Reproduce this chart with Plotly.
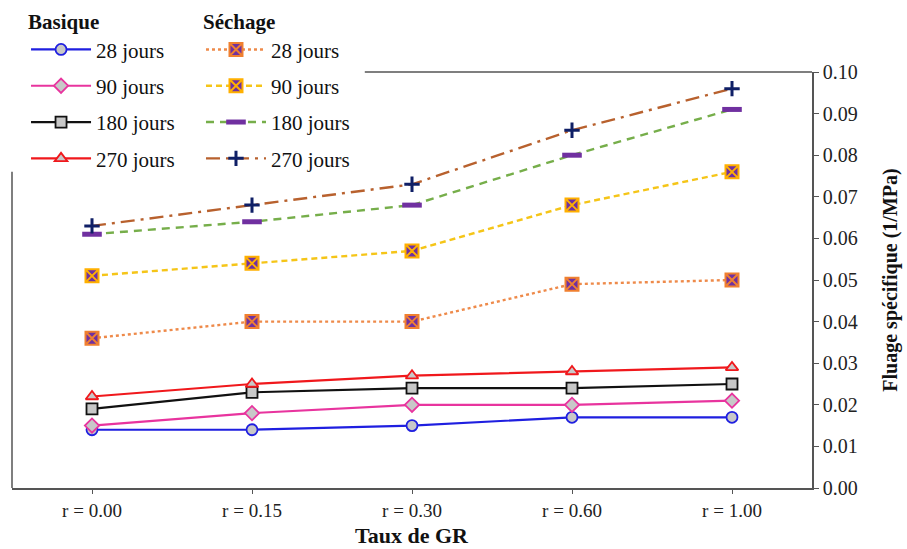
import plotly.graph_objects as go

categories = ["r = 0.00", "r = 0.15", "r = 0.30", "r = 0.60", "r = 1.00"]

basique_28 = [0.014, 0.014, 0.015, 0.017, 0.017]
basique_90 = [0.015, 0.018, 0.020, 0.020, 0.021]
basique_180 = [0.019, 0.023, 0.024, 0.024, 0.025]
basique_270 = [0.022, 0.025, 0.027, 0.028, 0.029]

sechage_28 = [0.036, 0.040, 0.040, 0.049, 0.050]
sechage_90 = [0.051, 0.054, 0.057, 0.068, 0.076]
sechage_180 = [0.061, 0.064, 0.068, 0.080, 0.091]
sechage_270 = [0.063, 0.068, 0.073, 0.086, 0.096]

x_title = "Taux de GR"
y_title = "Fluage spécifique (1/MPa)"

SERIF = "Liberation Serif, Times New Roman, serif"
GRAY = "#C8C8C8"
PURPLE = "#7030A0"

fig = go.Figure()

basique = [
    ("28 jours", basique_28, "#1F1FE0", "circle", 11),
    ("90 jours", basique_90, "#E8349E", "diamond", 11),
    ("180 jours", basique_180, "#111111", "square", 11),
    ("270 jours", basique_270, "#F0181C", "triangle-up", 11),
]
for i, (name, vals, col, sym, sz) in enumerate(basique):
    fig.add_trace(go.Scatter(
        x=categories, y=vals, name=name, mode="lines+markers",
        line=dict(color=col, width=2.2),
        marker=dict(symbol=sym, size=sz, color=GRAY, line=dict(color=col, width=1.8)),
        legend="legend", legendgroup="b%d" % i,
    ))

sechage = [
    ("28 jours", sechage_28, "#EE8A4A", "dot", dict(symbol="square-x", size=13, color=PURPLE, line=dict(color="#F08030", width=2))),
    ("90 jours", sechage_90, "#F5C518", "6px,4px", dict(symbol="square-x", size=13, color=PURPLE, line=dict(color="#FFB000", width=2))),
    ("180 jours", sechage_180, "#76AE4A", "8px,6px", dict(symbol="line-ew", size=14, color=PURPLE, line=dict(color=PURPLE, width=5))),
    ("270 jours", sechage_270, "#B8612E", "14px,6px,3px,6px", dict(symbol="cross-thin", size=11, color="#0F1F66", line=dict(color="#0F1F66", width=3))),
]
for i, (name, vals, col, dash, mk) in enumerate(sechage):
    fig.add_trace(go.Scatter(
        x=categories, y=vals, name=name, mode="lines+markers",
        line=dict(color=col, width=2.4, dash=dash),
        marker=mk,
        legend="legend2", legendgroup="s%d" % i,
    ))

# partial frame (top and left), leaving the legend area open
fig.add_shape(type="line", xref="paper", yref="paper", x0=0.441, x1=1, y0=1, y1=1,
              line=dict(color="#555555", width=1.5))
fig.add_shape(type="line", xref="paper", yref="paper", x0=0, x1=0, y0=0, y1=0.76,
              line=dict(color="#555555", width=1.5))

# x-axis title placed as an annotation below the tick labels
fig.add_annotation(text="<b>%s</b>" % x_title, xref="paper", yref="paper",
                   x=0.5, y=-0.1466, xanchor="center", yanchor="bottom", showarrow=False,
                   borderpad=0,
                   font=dict(family=SERIF, size=22, color="#111111"))

legend_common = dict(
    font=dict(family=SERIF, size=21, color="#111111"),
    bgcolor="rgba(255,255,255,0)",
    itemwidth=60,
    tracegroupgap=6,
    xref="container", yref="container",
    xanchor="left", yanchor="top",
    orientation="v",
    itemclick=False,
)

fig.update_layout(
    width=907, height=549,
    margin=dict(l=12, r=95, t=72, b=61, autoexpand=False),
    paper_bgcolor="white", plot_bgcolor="white",
    font=dict(family=SERIF, color="#222222"),
    legend=dict(x=0.0287, y=0.9964,
                title=dict(text="<b>Basique</b>", font=dict(family=SERIF, size=21, color="#111111")),
                **legend_common),
    legend2=dict(x=0.2216, y=0.9964,
                 title=dict(text="<b>Séchage</b>", font=dict(family=SERIF, size=21, color="#111111")),
                 **legend_common),
    xaxis=dict(
        type="category", range=[-0.5, 4.5], automargin=False,
        showline=True, linecolor="#555555", linewidth=1.5,
        ticks="outside", ticklen=4, tickcolor="#555555",
        ticklabelstandoff=0,
        tickfont=dict(family=SERIF, size=19, color="#222222"),
        showgrid=False, zeroline=False,
    ),
    yaxis=dict(
        side="right", range=[0, 0.1], dtick=0.01, tickformat=".2f", automargin=True,
        showline=True, linecolor="#555555", linewidth=1.5,
        ticks="outside", ticklen=5, tickcolor="#555555",
        tickfont=dict(family=SERIF, size=20, color="#222222"),
        showgrid=False, zeroline=False,
        title=dict(text="<b>%s</b>" % y_title, font=dict(family=SERIF, size=20, color="#111111"), standoff=26),
    ),
    showlegend=True,
)

fig.write_html("out.html")
